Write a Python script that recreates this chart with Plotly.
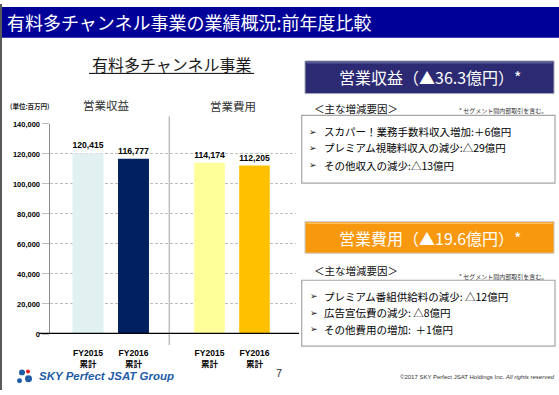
import plotly.graph_objects as go

W, H = 559, 395


def px(x):
    return x / W


def py(y):
    return 1 - y / H


# ---------------- data ----------------
categories = ["FY2015<br>累計", "FY2016<br>累計"]
revenue = [120415, 116777]
expense = [114174, 112205]
revenue_colors = ["#E1F1F1", "#002060"]
expense_colors = ["#FFFF99", "#FFC000"]
group_labels = ["営業収益", "営業費用"]
y_max = 140000
y_step = 20000

title_text = "有料多チャンネル事業の業績概況:前年度比較"
chart_heading = "有料多チャンネル事業"
unit_label = "(単位:百万円)"
rev_box_text = "営業収益（▲36.3億円）*"
exp_box_text = "営業費用（▲19.6億円）*"
factor_heading = "＜主な増減要因＞"
footnote = "* セグメント間内部取引を含む。"
rev_factors = [
    "スカパー！業務手数料収入増加:＋6億円",
    "プレミアム視聴料収入の減少:△29億円",
    "その他収入の減少:△13億円",
]
exp_factors = [
    "プレミアム番組供給料の減少: △12億円",
    "広告宣伝費の減少: △8億円",
    "その他費用の増加:  ＋1億円",
]
page_no = "7"
copyright_text = "©2017 SKY Perfect JSAT Holdings Inc. <i>All rights reserved</i>"
logo_text = "SKY Perfect JSAT Group"

CJK = "Noto Sans CJK JP, Noto Sans, sans-serif"
LAT = "Liberation Sans, Arial, Noto Sans CJK JP, sans-serif"

# ---------------- figure ----------------
fig = go.Figure()

# base subplot carrying the y axis and its gridlines
fig.add_trace(go.Scatter(x=[None], y=[None], xaxis="x", yaxis="y",
                         showlegend=False, hoverinfo="skip"))

fig.add_trace(go.Bar(
    x=categories, y=revenue, marker=dict(color=revenue_colors, line=dict(width=0)),
    xaxis="x2", yaxis="y2", showlegend=False,
    text=revenue, texttemplate="%{y:,}", textposition="outside",
    textfont=dict(family=LAT, size=9, color="black", weight="bold"),
    cliponaxis=False, hoverinfo="skip",
))
fig.add_trace(go.Bar(
    x=categories, y=expense, marker=dict(color=expense_colors, line=dict(width=0)),
    xaxis="x3", yaxis="y2", showlegend=False,
    text=expense, texttemplate="%{y:,}", textposition="outside",
    textfont=dict(family=LAT, size=9, color="black", weight="bold"),
    cliponaxis=False, hoverinfo="skip",
))

y_dom = [py(337.7), py(122.7)]
tickfont_x = dict(family=LAT, size=8.5, color="black", weight="bold")

fig.update_layout(
    width=W, height=H, autosize=False,
    margin=dict(l=0, r=0, t=0, b=0),
    paper_bgcolor="white", plot_bgcolor="rgba(0,0,0,0)",
    bargap=0.32,
    xaxis=dict(domain=[px(50), px(296)], range=[0, 1], anchor="y",
               showgrid=False, zeroline=False, showline=False,
               showticklabels=False, ticks=""),
    yaxis=dict(domain=y_dom, range=[0, y_max], dtick=y_step, anchor="x",
               showgrid=True, gridcolor="#BFBFBF", gridwidth=1, griddash="3px,2px",
               zeroline=False, showline=True, linecolor="#8C8C8C", linewidth=1.5,
               ticks="outside", ticklen=7, tickcolor="#BFBFBF", tickwidth=1,
               tickformat=",", tickfont=dict(family=LAT, size=7.5, color="black", weight="bold")),
    yaxis2=dict(domain=y_dom, range=[0, y_max], anchor="x2", visible=False,
                showgrid=False, zeroline=False),
    xaxis2=dict(domain=[px(65.25), px(156.25)], anchor="y2", type="category",
                showgrid=False, zeroline=False, showline=False, ticks="",
                tickfont=tickfont_x, ticklabelstandoff=12),
    xaxis3=dict(domain=[px(187), px(277)], anchor="y2", type="category",
                showgrid=False, zeroline=False, showline=False, ticks="",
                tickfont=tickfont_x, ticklabelstandoff=12),
    hovermode=False,
)

shapes = []
# left slide border
shapes.append(dict(type="rect", xref="paper", yref="paper", x0=0, x1=px(2), y0=0, y1=1,
                   fillcolor="#595959", line=dict(width=0), layer="above"))
# title bar
shapes.append(dict(type="rect", xref="paper", yref="paper", x0=px(2), x1=1, y0=py(34.5), y1=py(3),
                   fillcolor="#000099", line=dict(width=0), layer="below"))
# heading underline
shapes.append(dict(type="line", xref="paper", yref="paper", x0=px(89), x1=px(254), y0=py(71), y1=py(71),
                   line=dict(color="black", width=1)))
# group separator
shapes.append(dict(type="line", xref="paper", yref="paper", x0=px(169.3), x1=px(169.3), y0=py(349), y1=py(115),
                   line=dict(color="#BFBFBF", width=1.5)))
# zero baseline
shapes.append(dict(type="line", xref="paper", yref="y", x0=px(39), x1=px(299), y0=0, y1=0,
                   line=dict(color="black", width=2.5)))
# revenue header box
shapes.append(dict(type="rect", xref="paper", yref="paper", x0=px(305), x1=px(554), y0=py(91.7), y1=py(58.3),
                   fillcolor="#2B2A72", line=dict(color="#A8A8B8", width=1)))
shapes.append(dict(type="line", xref="paper", yref="paper", x0=px(306.5), x1=px(552.5), y0=py(60), y1=py(60),
                   line=dict(color="#5A5A9A", width=1.5)))
# expense header box
shapes.append(dict(type="rect", xref="paper", yref="paper", x0=px(305), x1=px(554), y0=py(255), y1=py(222.7),
                   fillcolor="#F7980F", line=dict(color="#C8C8C8", width=1)))
shapes.append(dict(type="line", xref="paper", yref="paper", x0=px(306.5), x1=px(552.5), y0=py(224.4), y1=py(224.4),
                   line=dict(color="#FBBE5A", width=1.5)))
# factor boxes
shapes.append(dict(type="rect", xref="paper", yref="paper", x0=px(301.7), x1=px(555), y0=py(183.3), y1=py(114),
                   fillcolor="rgba(0,0,0,0)", line=dict(color="#A6A6A6", width=1.2)))
shapes.append(dict(type="rect", xref="paper", yref="paper", x0=px(301.7), x1=px(555), y0=py(350), y1=py(282.7),
                   fillcolor="rgba(0,0,0,0)", line=dict(color="#A6A6A6", width=1.2)))
# logo mark
shapes.append(dict(type="circle", xref="paper", yref="paper", x0=px(19), x1=px(25), y0=py(380), y1=py(374),
                   fillcolor="#1E5CA8", line=dict(width=0)))
shapes.append(dict(type="circle", xref="paper", yref="paper", x0=px(25), x1=px(32), y0=py(387), y1=py(380),
                   fillcolor="#1E5CA8", line=dict(width=0)))
shapes.append(dict(type="circle", xref="paper", yref="paper", x0=px(17), x1=px(22), y0=py(388), y1=py(383),
                   fillcolor="#1E5CA8", line=dict(width=0)))
shapes.append(dict(type="circle", xref="paper", yref="paper", x0=px(26), x1=px(30), y0=py(378), y1=py(374),
                   fillcolor="#E02020", line=dict(width=0)))
fig.update_layout(shapes=shapes)

ann = []


def add_text(text, x, y, size, color="black", xanchor="left", family=CJK, weight="normal"):
    ann.append(dict(text=text, x=px(x), y=py(y), xref="paper", yref="paper",
                    xanchor=xanchor, yanchor="middle", showarrow=False,
                    font=dict(family=family, size=size, color=color, weight=weight)))


add_text(title_text, 5, 18.5, 18, color="white")
add_text(chart_heading, 171.5, 61.5, 16, color="#1A1A1A", xanchor="center")
add_text(unit_label, 30, 104, 6.5, color="#1A1A1A", xanchor="center", weight="bold")
add_text(group_labels[0], 106, 103, 11.5, color="#333333", xanchor="center")
add_text(group_labels[1], 232.5, 104, 11.5, color="#333333", xanchor="center")

add_text(rev_box_text, 430, 75, 16, color="white", xanchor="center")
add_text(exp_box_text, 430, 239, 16, color="white", xanchor="center")

add_text(factor_heading, 312, 106.7, 10.5, color="#111111")
add_text(factor_heading, 312, 272.3, 10.5, color="#111111")
add_text(footnote, 549, 109, 6, color="#333333", xanchor="right")
add_text(footnote, 549, 278.5, 6, color="#333333", xanchor="right")

for text, yy in zip(rev_factors, [130.7, 147.2, 165]):
    add_text("➢", 307, yy, 9, color="#111111", family="DejaVu Sans")
    add_text(text, 321.5, yy, 10.5, color="#000000")
for text, yy in zip(exp_factors, [299.3, 316, 332.7]):
    add_text("➢", 308, yy, 9, color="#111111", family="DejaVu Sans")
    add_text(text, 322.5, yy, 10.5, color="#000000")

add_text(logo_text, 37, 380.7, 11.5, color="#1E5CA8", family=LAT, weight="bold")
ann[-1]["font"]["style"] = "italic"
add_text(page_no, 279, 378, 11, color="#333333", xanchor="center", family=LAT)
add_text(copyright_text, 556, 382, 6, color="#333333", xanchor="right", family=LAT)

fig.update_layout(annotations=ann)

fig.write_html(
    "out.html",
    config={"displayModeBar": False, "staticPlot": True},
    post_script="document.body.style.margin='0';document.body.style.overflow='hidden';",
)
